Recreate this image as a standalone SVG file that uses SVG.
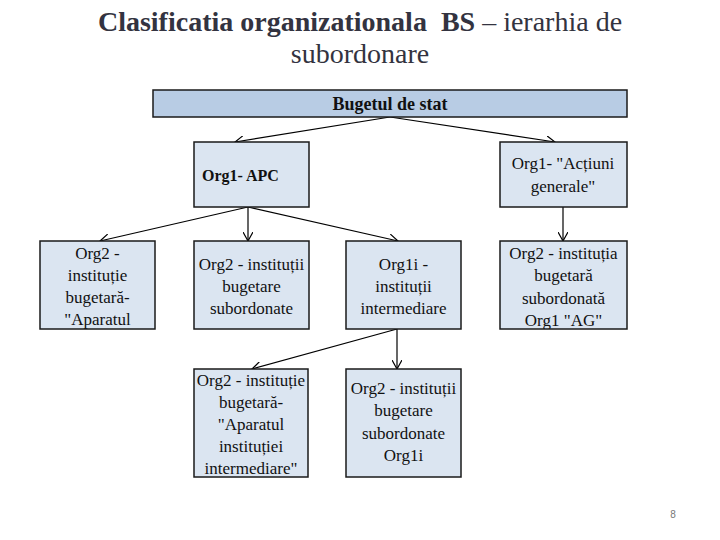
<svg xmlns="http://www.w3.org/2000/svg" width="720" height="540" viewBox="0 0 720 540">
<style>
.box{fill:#dbe5f1;stroke:#1a1a1a;stroke-width:1.5}
.fill{fill:#dbe5f1;stroke:none}
.frame{fill:none;stroke:#1a1a1a;stroke-width:1.5}
.top{fill:#b8cce4;stroke:#1a1a1a;stroke-width:1.5}
.edge{fill:none;stroke:#000;stroke-width:1.2}
text{font-family:"Liberation Serif","Times New Roman",serif}
.t{font-size:17px;fill:#111;text-anchor:middle}
.b{font-weight:bold}
.title{font-size:28px;fill:#333340;text-anchor:middle}
</style>
<defs>
<marker id="ar" viewBox="0 0 10 10" refX="9" refY="5" markerWidth="10" markerHeight="10" markerUnits="userSpaceOnUse" orient="auto">
<path d="M0,0 L9,5 L0,10" fill="none" stroke="#000" stroke-width="1.2"/>
</marker>
<clipPath id="c21"><rect x="40" y="241" width="115" height="88"/></clipPath>
<clipPath id="c24"><rect x="500" y="241" width="127" height="88"/></clipPath>
<clipPath id="c31"><rect x="194" y="369" width="114" height="108"/></clipPath>
</defs>
<g id="title">
<text class="title" x="360" y="31"><tspan class="b">Clasificatia organizationala&#160; BS</tspan> – ierarhia de</text>
<text class="title" x="360" y="63">subordonare</text>
</g>
<g id="connectors">
<line class="edge" x1="390" y1="117" x2="235" y2="142" marker-end="url(#ar)"/>
<line class="edge" x1="390" y1="117" x2="555" y2="142" marker-end="url(#ar)"/>
<line class="edge" x1="248" y1="207" x2="100" y2="241" marker-end="url(#ar)"/>
<line class="edge" x1="248" y1="207" x2="248" y2="241" marker-end="url(#ar)"/>
<line class="edge" x1="248" y1="207" x2="398" y2="241" marker-end="url(#ar)"/>
<line class="edge" x1="563" y1="207" x2="563" y2="241" marker-end="url(#ar)"/>
<line class="edge" x1="397" y1="329" x2="252" y2="369" marker-end="url(#ar)"/>
<line class="edge" x1="397" y1="329" x2="397" y2="369" marker-end="url(#ar)"/>
</g>
<g id="n-buget">
<rect class="top" x="153" y="90" width="474" height="27"/>
<text class="t b" x="390" y="110" style="font-size:18px">Bugetul de stat</text>
</g>
<g id="n-apc">
<rect class="box" x="194" y="142" width="115" height="65"/>
<text class="t b" x="202" y="181" style="text-anchor:start;font-size:16px">Org1- APC</text>
</g>
<g id="n-actiuni">
<rect class="box" x="500" y="142" width="127" height="65"/>
<text class="t" x="563" y="169">Org1- "Acțiuni</text>
<text class="t" x="563" y="192">generale"</text>
</g>
<g id="n-org2-aparat">
<rect class="fill" x="40" y="241" width="115" height="88"/>
<g clip-path="url(#c21)">
<text class="t" x="97.5" y="259">Org2 -</text>
<text class="t" x="97.5" y="281">instituție</text>
<text class="t" x="97.5" y="303">bugetară-</text>
<text class="t" x="97.5" y="325">"Aparatul</text>
</g>
<rect class="frame" x="40" y="241" width="115" height="88"/>
</g>
<g id="n-org2-subord">
<rect class="box" x="194" y="241" width="115" height="88"/>
<text class="t" x="251.5" y="270">Org2 - instituții</text>
<text class="t" x="251.5" y="292">bugetare</text>
<text class="t" x="251.5" y="314">subordonate</text>
</g>
<g id="n-org1i">
<rect class="box" x="346" y="241" width="115" height="88"/>
<text class="t" x="403.5" y="270">Org1i -</text>
<text class="t" x="403.5" y="292">instituții</text>
<text class="t" x="403.5" y="314">intermediare</text>
</g>
<g id="n-org2-ag">
<rect class="fill" x="500" y="241" width="127" height="88"/>
<g clip-path="url(#c24)">
<text class="t" x="563.5" y="259">Org2 - instituția</text>
<text class="t" x="563.5" y="281">bugetară</text>
<text class="t" x="563.5" y="304">subordonată</text>
<text class="t" x="563.5" y="326">Org1 "AG"</text>
</g>
<rect class="frame" x="500" y="241" width="127" height="88"/>
</g>
<g id="n-org2-aparat-inter">
<rect class="fill" x="194" y="369" width="114" height="108"/>
<g clip-path="url(#c31)">
<text class="t" x="251" y="386">Org2 - instituție</text>
<text class="t" x="251" y="408">bugetară-</text>
<text class="t" x="251" y="430">"Aparatul</text>
<text class="t" x="251" y="452">instituției</text>
<text class="t" x="251" y="474">intermediare"</text>
</g>
<rect class="frame" x="194" y="369" width="114" height="108"/>
</g>
<g id="n-org2-subord-org1i">
<rect class="box" x="346" y="369" width="115" height="108"/>
<text class="t" x="403.5" y="394">Org2 - instituții</text>
<text class="t" x="403.5" y="416">bugetare</text>
<text class="t" x="403.5" y="439">subordonate</text>
<text class="t" x="403.5" y="461">Org1i</text>
</g>
<text x="673" y="518" style="font-family:'Liberation Sans',Arial,sans-serif;font-size:10px;fill:#777;text-anchor:middle">8</text>
</svg>
